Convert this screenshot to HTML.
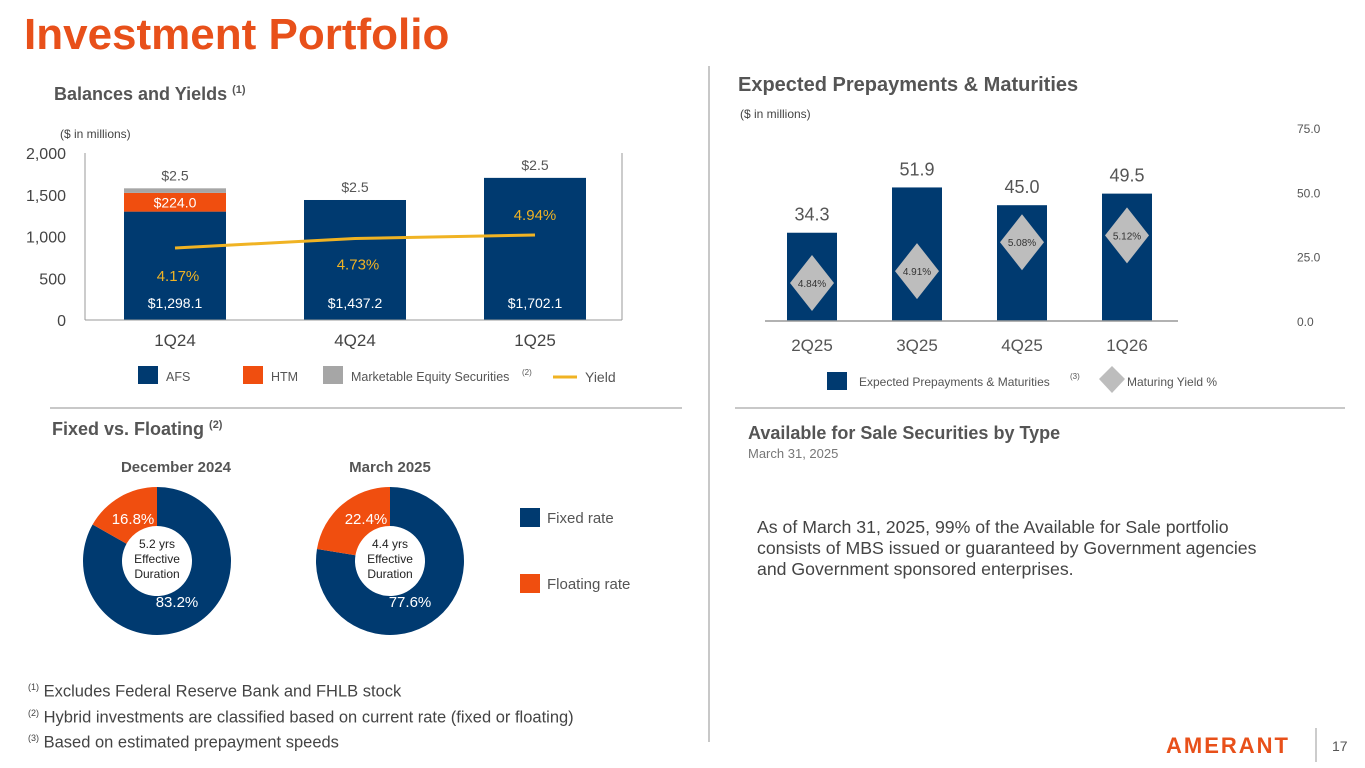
<!DOCTYPE html>
<html><head><meta charset="utf-8">
<style>
body{margin:0;width:1365px;height:768px;background:#fff;font-family:"Liberation Sans",sans-serif;overflow:hidden;position:relative}
.t{position:absolute;white-space:nowrap}
</style></head><body>
<div class="t" style="left:24px;top:10px;font-size:44px;font-weight:bold;color:#E8501A">Investment Portfolio</div>
<div class="t" style="left:54px;top:84px;font-size:18px;font-weight:bold;color:#555">Balances and Yields <sup style="font-size:11px">(1)</sup></div>
<div class="t" style="left:738px;top:74px;font-size:20px;font-weight:bold;color:#555">Expected Prepayments &amp; Maturities</div>
<div class="t" style="left:52px;top:419px;font-size:18px;font-weight:bold;color:#555">Fixed vs. Floating <sup style="font-size:11px">(2)</sup></div>
<div class="t" style="left:748px;top:423px;font-size:18px;font-weight:bold;color:#555">Available for Sale Securities by Type</div>
<div class="t" style="left:748px;top:446px;font-size:13px;color:#777">March 31, 2025</div>
<div class="t" style="left:757px;top:517px;font-size:17.7px;color:#444;line-height:21px">As of March 31, 2025, 99% of the Available for Sale portfolio<br>consists of MBS issued or guaranteed by Government agencies<br>and Government sponsored enterprises.</div>
<div class="t" style="left:28px;top:677px;font-size:16.5px;color:#444;line-height:21px"><sup style="font-size:9px">(1)</sup> Excludes Federal Reserve Bank and FHLB stock<br><sup style="font-size:9px">(2)</sup> Hybrid investments are classified based on current rate (fixed or floating)<br><sup style="font-size:9px">(3)</sup> Based on estimated prepayment speeds</div>
<div class="t" style="left:1166px;top:733px;font-size:22px;font-weight:bold;color:#E8501A;letter-spacing:2px">AMERANT</div>
<div class="t" style="left:1332px;top:738px;font-size:14px;color:#555">17</div>
<svg width="1365" height="768" style="position:absolute;left:0;top:0" id="svg">
<line x1="709" y1="66" x2="709" y2="742" stroke="#c8c8c8" stroke-width="2"/>
<line x1="50" y1="408" x2="682" y2="408" stroke="#c8c8c8" stroke-width="2"/>
<line x1="735" y1="408" x2="1345" y2="408" stroke="#c8c8c8" stroke-width="2"/>
<line x1="1316" y1="728" x2="1316" y2="762" stroke="#999" stroke-width="1"/>
</svg>
<script>
const NS="http://www.w3.org/2000/svg";
const svg=document.getElementById('svg');
function el(tag,attrs,txt){const e=document.createElementNS(NS,tag);for(const k in attrs)e.setAttribute(k,attrs[k]);if(txt!==undefined)e.textContent=txt;svg.appendChild(e);return e;}
const NAVY="#003A70",ORANGE="#F04E0F",GRAY="#A6A6A6",GOLD="#F0B323";

// Chart 1 data
const quarters1=["1Q24","4Q24","1Q25"];
const afs=[1298.1,1437.2,1702.1];
const htm=[224.0,0,0];
const mes=[55,0,0];
const afsLabels=["$1,298.1","$1,437.2","$1,702.1"];
const yields1=[4.17,4.73,4.94];
const yTicks1=[0,500,1000,1500,2000];
const yTickLabels1=["0","500","1,000","1,500","2,000"];

const y1=v=>320-v*(167/2000);
const yy1=v=>248-(v-4.17)*16.9;
const x1=i=>175+i*180;
el('text',{x:60,y:138,'font-size':12,fill:'#444'},'($ in millions)');
yTicks1.forEach((t,i)=>{const e=el('text',{x:66,y:y1(t)+6,'font-size':16,fill:'#444','text-anchor':'end'},yTickLabels1[i]);

});
el('line',{x1:85,y1:153,x2:85,y2:320,stroke:'#999'});
el('line',{x1:622,y1:153,x2:622,y2:320,stroke:'#999'});
quarters1.forEach((q,i)=>{
 const cx=x1(i),w=102;
 const a=el('rect',{x:cx-w/2,y:y1(afs[i]),width:w,height:y1(0)-y1(afs[i]),fill:NAVY});
 
 
 let top=afs[i];
 if(htm[i]>0){const h=el('rect',{x:cx-w/2,y:y1(top+htm[i]),width:w,height:y1(top)-y1(top+htm[i]),fill:ORANGE});
 
 
 el('text',{x:cx,y:y1(top+htm[i]/2)+5,'font-size':14,fill:'#fff','text-anchor':'middle'},'$'+htm[i].toFixed(1));top+=htm[i];}
 if(mes[i]>0){const m=el('rect',{x:cx-w/2,y:y1(top+mes[i]),width:w,height:y1(top)-y1(top+mes[i]),fill:GRAY});
 
 top+=mes[i];}
 el('text',{x:cx,y:y1(top)-8,'font-size':14,fill:'#555','text-anchor':'middle'},'$2.5');
 el('text',{x:cx,y:308,'font-size':14,fill:'#fff','text-anchor':'middle'},afsLabels[i]);
 const xl=el('text',{x:cx,y:346,'font-size':17,fill:'#444','text-anchor':'middle'},q);
 
 
});
el('line',{x1:85,y1:320,x2:622,y2:320,stroke:'#999'});
const yl=el('polyline',{points:yields1.map((v,i)=>x1(i)+','+yy1(v)).join(' '),fill:'none',stroke:GOLD,'stroke-width':3});


const yLabOff=[28,26,-20];
yields1.forEach((v,i)=>el('text',{x:x1(i)+(i==2?0:3),y:yy1(v)+yLabOff[i]+5,'font-size':15,fill:GOLD,'text-anchor':'middle'},v.toFixed(2)+'%'));
// legend 1
[[138,NAVY,'AFS'],[243,ORANGE,'HTM'],[323,GRAY,'Marketable Equity Securities']].forEach(([x,c,t])=>{
 const r=el('rect',{x:x,y:366,width:20,height:18,fill:c});
 
 
 el('text',{x:x+28,y:381,'font-size':12.5,fill:'#555'},t);});
el('text',{x:522,y:375,'font-size':8,fill:'#555'},'(2)');
el('line',{x1:553,y1:377,x2:577,y2:377,stroke:GOLD,'stroke-width':3});
el('text',{x:585,y:382,'font-size':14,fill:'#555'},'Yield');

// Chart 2 data
const quarters2=["2Q25","3Q25","4Q25","1Q26"];
const prepay=[34.3,51.9,45.0,49.5];
const matYield=[4.84,4.91,5.08,5.12];
const yTicks2=[0,25,50,75];
const y2=v=>321-v*(193/75);
const yy2=v=>283-(v-4.84)*170;
const x2=i=>812+i*105;
el('text',{x:740,y:118,'font-size':12,fill:'#444'},'($ in millions)');
yTicks2.forEach(t=>{const e=el('text',{x:1297,y:y2(t)+5,'font-size':12,fill:'#555'},t.toFixed(1));

});
quarters2.forEach((q,i)=>{
 const cx=x2(i);
 const b=el('rect',{x:cx-25,y:y2(prepay[i]),width:50,height:y2(0)-y2(prepay[i]),fill:NAVY});
 
 
 el('text',{x:cx,y:y2(prepay[i])-12,'font-size':18,fill:'#555','text-anchor':'middle'},prepay[i].toFixed(1));
 const yd=yy2(matYield[i]);
 const d=el('polygon',{points:`${cx},${yd-28} ${cx+22},${yd} ${cx},${yd+28} ${cx-22},${yd}`,fill:'#BDBDBD'});
 
 
 el('text',{x:cx,y:yd+4,'font-size':10,fill:'#333','text-anchor':'middle'},matYield[i].toFixed(2)+'%');
 const xl=el('text',{x:cx,y:351,'font-size':17,fill:'#555','text-anchor':'middle'},q);
 
 
});
el('line',{x1:765,y1:321,x2:1178,y2:321,stroke:'#999','stroke-width':1.5});
const ls=el('rect',{x:827,y:372,width:20,height:18,fill:NAVY});


el('text',{x:859,y:386,'font-size':12,fill:'#555'},'Expected Prepayments & Maturities');
el('text',{x:1070,y:379,'font-size':8,fill:'#555'},'(3)');
el('polygon',{points:'1112,366 1125,379 1112,393 1099,379',fill:'#BDBDBD'});
el('text',{x:1127,y:386,'font-size':12,fill:'#555'},'Maturing Yield %');

// Donuts
const donutTitles=["December 2024","March 2025"];
const floating=[16.8,22.4];
const fixed=[83.2,77.6];
const durations=["5.2 yrs","4.4 yrs"];
const dcx=[157,390];
const dTitleX=[176,390];
function arc(cx,cy,R,r,a0,a1){
 const p=(rad,a)=>[cx+rad*Math.sin(a),cy-rad*Math.cos(a)];
 const lg=(a1-a0)>Math.PI?1:0;
 const [x0,y0]=p(R,a0),[x1_,y1_]=p(R,a1),[x2_,y2_]=p(r,a1),[x3,y3]=p(r,a0);
 return `M${x0},${y0} A${R},${R} 0 ${lg} 1 ${x1_},${y1_} L${x2_},${y2_} A${r},${r} 0 ${lg} 0 ${x3},${y3} Z`;
}
donutTitles.forEach((t,i)=>{
 const cx=dcx[i],cy=561,R=74,r=35;
 el('text',{x:dTitleX[i],y:472,'font-size':15,'font-weight':'bold',fill:'#555','text-anchor':'middle'},t);
 const fa=-floating[i]/100*2*Math.PI;
 const f=el('path',{d:arc(cx,cy,R,r,0,2*Math.PI+fa),fill:NAVY});
 
 
 const o=el('path',{d:arc(cx,cy,R,r,fa,0),fill:ORANGE});
 
 
 el('text',{x:cx-24,y:524,'font-size':15,fill:'#fff','text-anchor':'middle'},floating[i].toFixed(1)+'%');
 el('text',{x:cx+20,y:607,'font-size':15,fill:'#fff','text-anchor':'middle'},fixed[i].toFixed(1)+'%');
 [durations[i],'Effective','Duration'].forEach((s,k)=>el('text',{x:cx,y:548+k*15,'font-size':12,fill:'#222','text-anchor':'middle'},s));
});
[[520,508,NAVY,'Fixed rate'],[520,574,ORANGE,'Floating rate']].forEach(([x,y,c,t])=>{
 const r=el('rect',{x:x,y:y,width:20,height:19,fill:c});
 
 
 el('text',{x:x+27,y:y+15,'font-size':15,fill:'#555'},t);});
</script>
</body></html>
